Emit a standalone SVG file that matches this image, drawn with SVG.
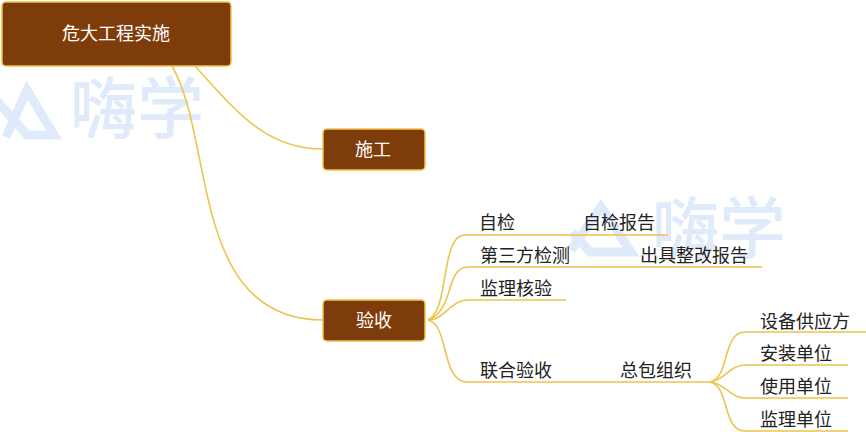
<svg xmlns="http://www.w3.org/2000/svg" width="866" height="432" viewBox="0 0 866 432">
<style>
.wm{font-family:"Noto Sans CJK SC",sans-serif;font-size:67px;font-weight:500;fill:#dfebfa}
.wl{fill:none;stroke:#dfebfa;stroke-width:9}
.c{fill:none;stroke:#edc44e;stroke-width:1.6}
.n{fill:#7f3c0b;stroke:#f2c14a;stroke-width:1.5}
.t{font-family:"Noto Sans CJK SC",sans-serif;font-size:18px;fill:#222;text-anchor:middle}
.w{font-family:"Noto Sans CJK SC",sans-serif;font-size:18px;fill:#fff;text-anchor:middle}
</style>
<g id="watermark">
<path class="wl" d="M-4 100L27 135H54L27 90L6 137"/>
<text class="wm" x="70" y="133">嗨学</text>
<path class="wl" d="M571 250L601 207L631 252H590L572 232"/>
<text class="wm" x="652" y="253">嗨学</text>
</g>
<g id="connectors">
<path class="c" d="M195 66C235 110 265 149 323 149"/>
<path class="c" d="M172 66C215 140 190 320 323 320"/>
<path class="c" d="M428 320C450 310 440 235 465 235H668"/>
<path class="c" d="M428 320C455 310 445 267 468 267H762"/>
<path class="c" d="M428 320C445 320 450 300 468 300H566"/>
<path class="c" d="M428 320C450 325 440 382 468 382H710"/>
<path class="c" d="M710 382C730 378 722 332 745 332H866"/>
<path class="c" d="M710 382C725 380 730 365 745 365H848"/>
<path class="c" d="M710 382C725 383 730 398 745 398H848"/>
<path class="c" d="M710 382C730 386 722 431 745 431H848"/>
</g>
<g id="node-root"><rect class="n" x="2" y="2" width="229" height="64" rx="4"/><text class="w" x="116" y="40">危大工程实施</text></g>
<g id="node-sg"><rect class="n" x="323" y="129" width="102" height="41" rx="4"/><text class="w" x="373" y="156">施工</text></g>
<g id="node-ys"><rect class="n" x="323" y="300" width="102" height="41" rx="4"/><text class="w" x="374" y="327">验收</text></g>
<g id="node-zj"><text class="t" x="497" y="229">自检</text></g>
<g id="node-zjbg"><text class="t" x="619" y="229">自检报告</text></g>
<g id="node-dsf"><text class="t" x="525" y="262">第三方检测</text></g>
<g id="node-cj"><text class="t" x="694" y="262">出具整改报告</text></g>
<g id="node-jl"><text class="t" x="516" y="295">监理核验</text></g>
<g id="node-lh"><text class="t" x="516" y="377">联合验收</text></g>
<g id="node-zb"><text class="t" x="656" y="377">总包组织</text></g>
<g id="node-sb"><text class="t" x="805" y="328">设备供应方</text></g>
<g id="node-az"><text class="t" x="796" y="360">安装单位</text></g>
<g id="node-sy"><text class="t" x="796" y="393">使用单位</text></g>
<g id="node-jd"><text class="t" x="796" y="426">监理单位</text></g>
</svg>
